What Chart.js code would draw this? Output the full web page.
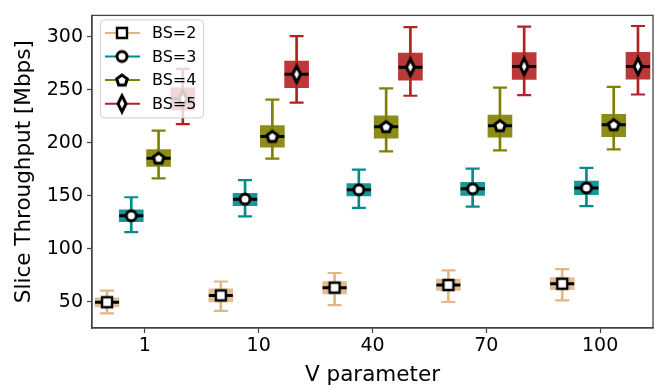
<!DOCTYPE html>
<html>
<head>
<meta charset="utf-8">
<script src="https://cdn.jsdelivr.net/npm/chart.js@4.4.1/dist/chart.umd.min.js"></script>
<style>
  html, body { margin: 0; padding: 0; background: #fff; }
  #wrap { width: 672px; height: 389px; position: relative; }
</style>
</head>
<body>
<div id="wrap"><canvas id="chart-area"></canvas></div>
<script>
// x categories (V parameter)
var vLabels = ['1', '10', '40', '70', '100'];

// series names + colours
var seriesLabels = ['BS=2', 'BS=3', 'BS=4', 'BS=5'];
var seriesColors = ['#deb887', '#008b8b', '#808000', '#b22222'];
var seriesOffsets = [-0.333, -0.12, 0.12, 0.333];

// box stats per V value: [lower whisker, q1, median, q3, upper whisker]
var bs2 = [[39.3, 45.4, 49.8, 54.0, 60.8], [41.7, 50.0, 56.2, 62.3, 69.3], [47.0, 57.7, 63.5, 69.3, 77.3], [50.0, 60.8, 66.0, 71.5, 79.8], [51.6, 61.7, 67.2, 73.0, 81.0]];
var bs3 = [[115.9, 125.7, 131.2, 136.8, 148.7], [130.6, 140.7, 146.9, 152.4, 164.9], [138.6, 149.9, 155.7, 161.6, 174.7], [139.8, 150.5, 156.6, 162.8, 175.6], [140.4, 151.1, 157.5, 164.0, 176.3]];
var bs4 = [[166.4, 177.8, 185.5, 193.7, 211.5], [185.1, 195.9, 206.0, 216.1, 240.6], [191.9, 204.4, 215.2, 225.3, 251.3], [192.8, 205.3, 216.1, 226.2, 251.9], [193.7, 205.7, 217.0, 226.8, 252.6]];
var bs5 = [[217.6, 230.8, 241.5, 251.7, 269.7], [237.9, 252.0, 264.5, 277.0, 300.5], [244.3, 259.0, 271.2, 284.4, 309.0], [244.9, 259.6, 271.9, 285.0, 309.5], [245.5, 259.9, 271.9, 285.3, 310.0]];

var yTicks = [50, 100, 150, 200, 250, 300];

var allStats = [bs2, bs3, bs4, bs5];
var markerShapes = ['square', 'circle', 'pentagon', 'diamond'];

//build the white marker with black edge on a small canvas
function makeMarker(shape) {
  var c = document.createElement('canvas');
  var s = shape == 'diamond' ? [14, 22] : [16, 16];
  c.width = s[0]; c.height = s[1];
  var g = c.getContext('2d');
  var cx = s[0] / 2, cy = s[1] / 2;
  g.beginPath();
  if (shape == 'square') {
    g.rect(cx - 5, cy - 5, 10, 10);
    g.lineWidth = 2.4;
  } else if (shape == 'circle') {
    g.arc(cx, cy, 5, 0, Math.PI * 2);
    g.lineWidth = 3;
  } else if (shape == 'pentagon') {
    for (var k = 0; k < 5; k++) {
      var a = -Math.PI / 2 + k * 2 * Math.PI / 5;
      var px = cx + 5.6 * Math.cos(a), py = cy + 0.5 + 5.6 * Math.sin(a);
      if (k == 0) g.moveTo(px, py); else g.lineTo(px, py);
    }
    g.closePath();
    g.lineWidth = 3;
  } else {
    g.moveTo(cx, cy - 8); g.lineTo(cx + 4, cy); g.lineTo(cx, cy + 8); g.lineTo(cx - 4, cy);
    g.closePath();
    g.lineWidth = 3;
  }
  g.fillStyle = '#ffffff';
  g.fill();
  g.strokeStyle = '#000000';
  g.lineJoin = 'miter';
  g.stroke();
  return c;
}

function alpha(hex, a) {
  var r = parseInt(hex.substr(1, 2), 16), gg = parseInt(hex.substr(3, 2), 16), b = parseInt(hex.substr(5, 2), 16);
  return 'rgba(' + r + ',' + gg + ',' + b + ',' + a + ')';
}

var markers = markerShapes.map(makeMarker);
var datasets = [];

for (var s = 0; s < allStats.length; s++) {
  var stats = allStats[s];
  var whisk = [], box = [], caps = [], med = [];
  for (var i = 0; i < stats.length; i++) {
    var x = i + seriesOffsets[s];
    whisk.push({x: x, y: [stats[i][0], stats[i][4]]});
    box.push({x: x, y: [stats[i][1], stats[i][3]]});
    caps.push({x: x, y: stats[i][0]});
    caps.push({x: x, y: stats[i][4]});
    med.push({x: x, y: stats[i][2]});
  }
  datasets.push({type: 'bar', data: whisk, backgroundColor: seriesColors[s], barThickness: 2, grouped: false, order: 50});
  datasets.push({type: 'bar', data: box, backgroundColor: alpha(seriesColors[s], 0.9), barThickness: 24, grouped: false, order: 40});
  datasets.push({type: 'line', data: caps, showLine: false, pointStyle: 'line', pointRadius: 7, pointBorderWidth: 2.2, borderColor: seriesColors[s], order: 30});
  datasets.push({type: 'line', data: med, showLine: false, pointStyle: 'line', pointRadius: 12, pointBorderWidth: 3, borderColor: '#000', order: 20});
  datasets.push({type: 'line', label: seriesLabels[s], data: med, showLine: false, pointStyle: markers[s], order: 10});
}

//frame around plot + legend box drawn on top
var framePlugin = {
  id: 'frame',
  afterDatasetsDraw: function(chart) {
    var ctx = chart.ctx, a = chart.chartArea;
    ctx.save();
    ctx.strokeStyle = '#444';
    ctx.lineWidth = 1.3;
    ctx.strokeRect(a.left, a.top, a.right - a.left, a.bottom - a.top);

    var x0 = a.left + 8, y0 = a.top + 4, w = 103, h = 98;
    ctx.beginPath();
    ctx.roundRect(x0 + 0.5, y0 + 0.5, w, h, 4);
    ctx.fillStyle = 'rgba(255,255,255,0.8)';
    ctx.fill();
    ctx.strokeStyle = '#d0d0d0';
    ctx.lineWidth = 1;
    ctx.stroke();
    for (var i = 0; i < seriesLabels.length; i++) {
      var yy = y0 + 13.5 + i * 23.6;
      ctx.beginPath();
      ctx.moveTo(x0 + 5, yy);
      ctx.lineTo(x0 + 40, yy);
      ctx.strokeStyle = seriesColors[i];
      ctx.lineWidth = 2;
      ctx.stroke();
      var m = markers[i];
      ctx.drawImage(m, x0 + 22 - m.width / 2, yy - m.height / 2);
      ctx.fillStyle = '#000';
      ctx.font = '16px "DejaVu Sans"';
      ctx.textBaseline = 'middle';
      ctx.fillText(seriesLabels[i], x0 + 52, yy + 1);
    }
    ctx.restore();
  }
};

var ctx = document.getElementById('chart-area').getContext('2d');
window.myBox = new Chart(ctx, {
  type: 'bar',
  data: {datasets: datasets},
  options: {
    responsive: true,
    maintainAspectRatio: false,
    animation: false,
    devicePixelRatio: 1,
    events: [],
    layout: {padding: {left: 0, right: 19, top: 8, bottom: 0}},
    plugins: {legend: {display: false}, tooltip: {enabled: false}},
    scales: {
      x: {
        type: 'linear',
        min: -0.465,
        max: 4.465,
        offset: false,
        afterBuildTicks: function(sc) { sc.ticks = vLabels.map(function(l, i) { return {value: i}; }); },
        afterFit: function(sc) { sc.height = 61; },
        ticks: {
          callback: function(v) { return vLabels[v]; },
          font: {family: 'DejaVu Sans', size: 19},
          color: '#000',
          padding: 2,
          maxRotation: 0
        },
        grid: {display: true, offset: false, drawOnChartArea: false, tickLength: 5, tickColor: '#444', tickWidth: 1.2},
        border: {display: true, color: '#444', width: 1.3},
        title: {display: true, text: 'V parameter', font: {family: 'DejaVu Sans', size: 21.5}, color: '#000', padding: {top: 0, bottom: 1}}
      },
      y: {
        type: 'linear',
        min: 25.5,
        max: 320,
        afterBuildTicks: function(sc) { sc.ticks = yTicks.map(function(v) { return {value: v}; }); },
        afterFit: function(sc) { sc.width = 92; },
        ticks: {
          font: {family: 'DejaVu Sans', size: 19},
          color: '#000',
          padding: 4
        },
        grid: {display: true, offset: false, drawOnChartArea: false, tickLength: 5, tickColor: '#444', tickWidth: 1.2},
        border: {display: true, color: '#444', width: 1.3},
        title: {display: true, text: 'Slice Throughput [Mbps]', font: {family: 'DejaVu Sans', size: 21.5}, color: '#000', padding: {top: 12, bottom: 2}}
      }
    }
  },
  plugins: [framePlugin]
});
</script>
</body>
</html>
